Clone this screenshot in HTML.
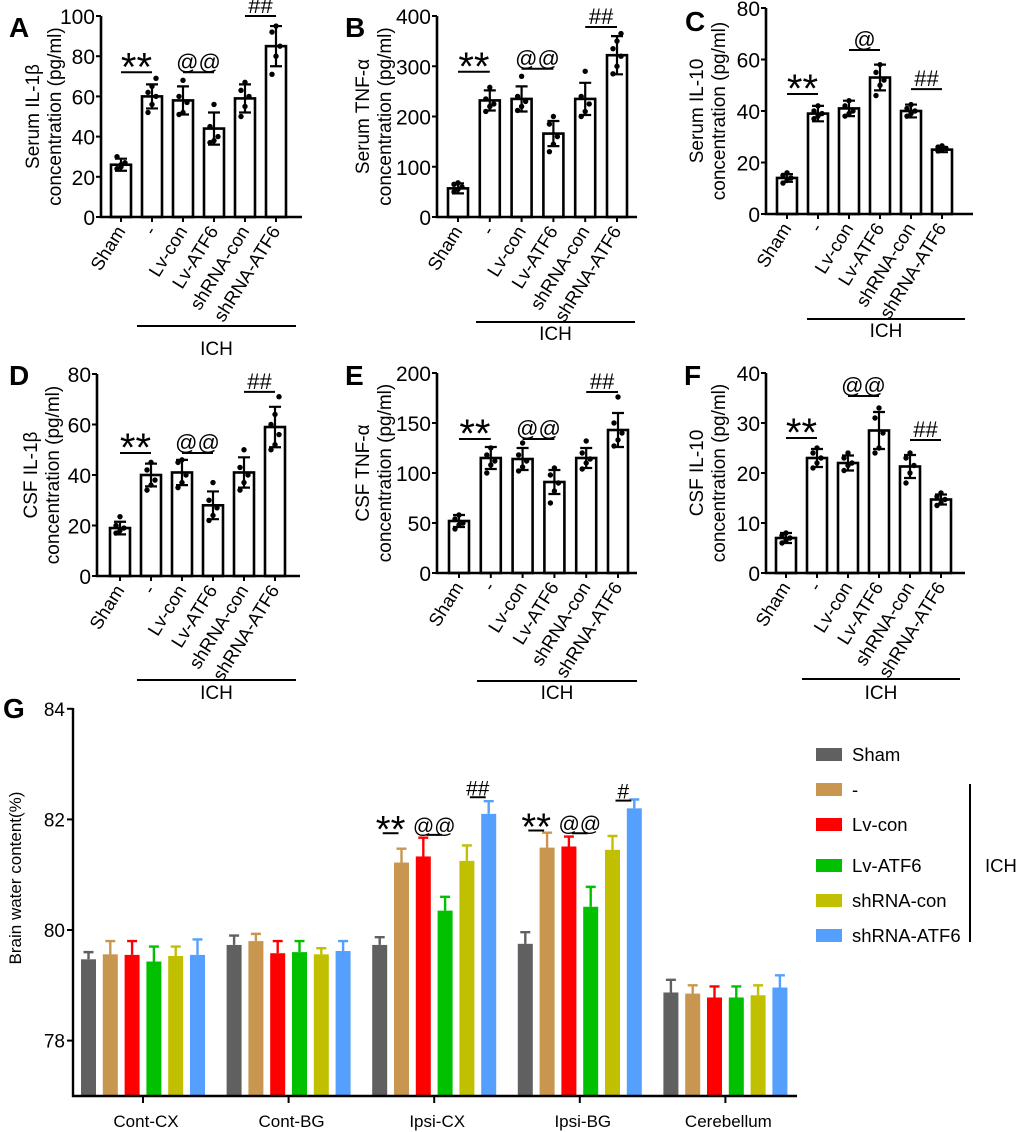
<!DOCTYPE html>
<html><head><meta charset="utf-8"><style>
html,body{margin:0;padding:0;background:#fff;}
svg{display:block;font-family:"Liberation Sans",Arial,sans-serif;}
</style></head><body>
<svg id="fig" width="1020" height="1132" viewBox="0 0 1020 1132" xmlns="http://www.w3.org/2000/svg"></svg>
<script>
const NS="http://www.w3.org/2000/svg";
const svg=document.getElementById('fig');
function mk(tag,attrs,parent,text){const e=document.createElementNS(NS,tag);for(const k in attrs)e.setAttribute(k,attrs[k]);if(text!==undefined)e.textContent=text;(parent||svg).appendChild(e);return e;}

const groups=["Sham","-","Lv-con","Lv-ATF6","shRNA-con","shRNA-ATF6"];

// Panel A data
const meanA=[26,60,58,44,59,85];
const sdA=[3,6,7,8,7,10];
const dotsA=[[24,26,27,30,25],[52,56,60,62,65,69],[51,52,57,60,68],[37,38,40,45,56],[50,55,60,63,67],[71,80,85,92,95]];
const ticksA=[0,20,40,60,80,100];
// Panel B data
const meanB=[57,232,235,166,235,322];
const sdB=[10,20,25,25,32,38];
const dotsB=[[50,55,60,65,68],[210,220,225,235,258],[212,220,230,240,280],[130,145,160,185,200],[200,210,225,240,290],[285,300,320,335,350,365]];
const ticksB=[0,100,200,300,400];
// Panel C data
const meanC=[14,39,41,53,40,25];
const sdC=[1.5,3,3,5,2.5,1];
const dotsC=[[12,13,14,15,16],[37,38,39,40,42],[38,39,40,42,44],[46,50,52,55,58],[38,39,40,41,42.5],[24.5,25,25.5,26,26.5]];
const ticksC=[0,20,40,60,80];
// Panel D data
const meanD=[19,40,41,28,41,59];
const sdD=[2.5,4.5,5,5.5,6,8];
const dotsD=[[17,18,19,20,23.5],[34,36,38,42,45],[35,37,40,45,46],[22,24,27,30,37],[34,37,40,43,50],[50,52,56,60,64,71]];
const ticksD=[0,20,40,60,80];
// Panel E data
const meanE=[52,115,114,91,115,143];
const sdE=[6,11,11,12,10,17];
const dotsE=[[44,48,50,54,58],[100,108,112,118,125],[102,106,112,118,130],[70,82,90,98,105],[104,110,114,120,132],[127,133,140,150,176]];
const ticksE=[0,50,100,150,200];
// Panel F data
const meanF=[7,23,22,28.5,21.3,14.7];
const sdF=[1,1.8,1.5,3.7,2.3,1];
const dotsF=[[6,6.5,7,7.5,8],[21,22,23,24,25],[20.5,21.5,22,23,24],[24,25,28,31,33],[18,20,21.5,23,24],[13.5,14,14.7,15.3,16]];
const ticksF=[0,10,20,30,40];

// Panel G data
const regionsG=["Cont-CX","Cont-BG","Ipsi-CX","Ipsi-BG","Cerebellum"];
const seriesG=["Sham","-","Lv-con","Lv-ATF6","shRNA-con","shRNA-ATF6"];
const shamG=[79.47,79.73,79.73,79.75,78.87];
const vehG=[79.56,79.80,81.22,81.49,78.85];
const lvconG=[79.55,79.58,81.33,81.51,78.78];
const lvatf6G=[79.43,79.60,80.35,80.42,78.78];
const shconG=[79.53,79.56,81.25,81.45,78.82];
const shatf6G=[79.55,79.62,82.10,82.20,78.96];
const shamErrG=[0.13,0.17,0.14,0.21,0.23];
const vehErrG=[0.24,0.13,0.25,0.27,0.15];
const lvconErrG=[0.25,0.22,0.34,0.18,0.2];
const lvatf6ErrG=[0.27,0.2,0.25,0.36,0.2];
const shconErrG=[0.17,0.11,0.28,0.25,0.18];
const shatf6ErrG=[0.28,0.18,0.23,0.16,0.22];
const ticksG=[78,80,82,84];

function panel(o){
  const g=mk('g',{},svg);
  
  
  const y=v=>o.y0-(v/o.ymax)*(o.y0-o.ytop);
  const x=i=>o.cx0+i*o.sp;
  const L=mk('text',{x:o.lx,y:o.ly,'font-size':28,'font-weight':'bold'},g,o.id);
  
  
  o.mean.forEach((m,i)=>{
    const b=mk('rect',{x:x(i)-10,y:y(m),width:20,height:o.y0-y(m),fill:'#fff',stroke:'#000','stroke-width':2.6},g);
    
    
    const e=mk('path',{d:`M${x(i)},${y(m+o.sd[i])}V${y(m-o.sd[i])}M${x(i)-6},${y(m+o.sd[i])}H${x(i)+6}M${x(i)-6},${y(m-o.sd[i])}H${x(i)+6}`,stroke:'#000','stroke-width':2.2,fill:'none'},g);
    
    
    o.dots[i].forEach((d,k)=>{
      const c=mk('circle',{cx:x(i)+((k%3)-1)*4,cy:y(d),r:2.7,fill:'#000'},g);
      
      
    });
    const t=mk('text',{x:x(i)+5,y:o.y0+14,'font-size':18.5,'text-anchor':'end',transform:`rotate(-58 ${x(i)+5} ${o.y0+14})`},g,groups[i]);
    
    
  });
  const ax=mk('path',{d:`M${o.ax},${o.ytop}V${o.y0}H${o.axEnd}`,stroke:'#000','stroke-width':2.6,fill:'none'},g);
  
  
  o.ticks.forEach(t=>{
    mk('line',{x1:o.ax-5,x2:o.ax,y1:y(t),y2:y(t),stroke:'#000','stroke-width':2},g);
    const tl=mk('text',{x:o.ax-6,y:y(t)+8,'font-size':21,'text-anchor':'end'},g,t);
    
    
  });
  groups.forEach((_,i)=>mk('line',{x1:x(i),x2:x(i),y1:o.y0,y2:o.y0+5,stroke:'#000','stroke-width':2},g));
  const ty=(o.ytop+o.y0)/2;
  const t1=mk('text',{x:o.ax+o.t1,y:ty,'font-size':19,'text-anchor':'middle',transform:`rotate(-90 ${o.ax+o.t1} ${ty})`},g,o.title1);
  
  
  const t2=mk('text',{x:o.ax+o.t1+22,y:ty,'font-size':19,'text-anchor':'middle',transform:`rotate(-90 ${o.ax+o.t1+22} ${ty})`},g,'concentration (pg/ml)');
  
  
  o.sig.forEach(s=>{
    const yy=y(s[3]);
    const l=mk('line',{x1:x(s[0]),x2:x(s[1]),y1:yy,y2:yy,stroke:'#000','stroke-width':2},g);
    
    
    const big=s[2]==='**';
    const st=mk('text',{x:(x(s[0])+x(s[1]))/2,y:yy-(big?-8:3),'font-size':big?40:22,'text-anchor':'middle'},g,s[2]);
    
    
  });
  const il=mk('line',{x1:o.ichX1,x2:o.ichX2,y1:o.ichY,y2:o.ichY,stroke:'#000','stroke-width':2},g);
  
  
  const it=mk('text',{x:(o.ichX1+o.ichX2)/2,y:o.ichT,'font-size':19,'text-anchor':'middle'},g,'ICH');
  
  
}

panel({id:'A',lx:9,ly:37,ax:101,y0:217,ytop:16,ymax:100,axEnd:302,cx0:121,sp:31,mean:meanA,sd:sdA,dots:dotsA,ticks:ticksA,t1:-62,title1:'Serum IL-1β',
  sig:[[0,1,'**',72],[2,3,'@@',72],[4,5,'##',100]],ichX1:137,ichX2:296,ichY:326,ichT:355});
panel({id:'B',lx:345,ly:37,ax:437,y0:217,ytop:16,ymax:400,axEnd:637,cx0:458,sp:31.8,mean:meanB,sd:sdB,dots:dotsB,ticks:ticksB,t1:-68,title1:'Serum TNF-α',
  sig:[[0,1,'**',289],[2,3,'@@',295],[4,5,'##',378]],ichX1:476,ichX2:635,ichY:322,ichT:340});
panel({id:'C',lx:685,ly:31,ax:766,y0:214,ytop:8,ymax:80,axEnd:973,cx0:787,sp:31,mean:meanC,sd:sdC,dots:dotsC,ticks:ticksC,t1:-63,title1:'Serum IL-10',
  sig:[[0,1,'**',46.6],[2,3,'@',63.7],[4,5,'##',48.5]],ichX1:807,ichX2:965,ichY:319,ichT:337});
panel({id:'D',lx:9,ly:385,ax:97,y0:576,ytop:374,ymax:80,axEnd:300,cx0:120,sp:31,mean:meanD,sd:sdD,dots:dotsD,ticks:ticksD,t1:-60,title1:'CSF IL-1β',
  sig:[[0,1,'**',48.7],[2,3,'@@',48.7],[4,5,'##',72.9]],ichX1:137,ichX2:296,ichY:680,ichT:699});
panel({id:'E',lx:345,ly:385,ax:437,y0:573,ytop:373,ymax:200,axEnd:637,cx0:459,sp:31.8,mean:meanE,sd:sdE,dots:dotsE,ticks:ticksE,t1:-68,title1:'CSF TNF-α',
  sig:[[0,1,'**',134],[2,3,'@@',134],[4,5,'##',181]],ichX1:477,ichX2:637,ichY:681,ichT:699});
panel({id:'F',lx:684,ly:385,ax:766,y0:573,ytop:373,ymax:40,axEnd:965,cx0:786,sp:31,mean:meanF,sd:sdF,dots:dotsF,ticks:ticksF,t1:-63,title1:'CSF IL-10',
  sig:[[0,1,'**',27],[2,3,'@@',35.4],[4,5,'##',26.6]],ichX1:802,ichX2:960,ichY:679,ichT:699});

// Panel G
(function(){
  const g=mk('g',{},svg);
  
  
  const colors=['#606060','#c8964f','#ff0000','#00c000','#c0c000','#55a0ff'];
  const vals=[shamG,vehG,lvconG,lvatf6G,shconG,shatf6G];
  const errs=[shamErrG,vehErrG,lvconErrG,lvatf6ErrG,shconErrG,shatf6ErrG];
  const ax=73,yBase=1096,axEnd=797;
  const y=v=>930-(v-80)*55.3;
  const gx=r=>143+r*145.6;
  const bx=(r,s)=>gx(r)+(s-2.5)*21.8;
  const L=mk('text',{x:3,y:718,'font-size':28,'font-weight':'bold'},g,'G');
  
  
  regionsG.forEach((rn,r)=>{
    vals.forEach((arr,s)=>{
      const v=arr[r],e=errs[s][r],cx=bx(r,s);
      const ep=mk('path',{d:`M${cx},${y(v)}V${y(v+e)}M${cx-5},${y(v+e)}H${cx+5}`,stroke:colors[s],'stroke-width':2.4,fill:'none'},g);
      
      
      const b=mk('rect',{x:cx-7.5,y:y(v),width:15,height:yBase-y(v),fill:colors[s]},g);
      
      
    });
    mk('line',{x1:gx(r),x2:gx(r),y1:yBase,y2:yBase+7,stroke:'#000','stroke-width':2},g);
    const t=mk('text',{x:gx(r)+3,y:1127,'font-size':17,'text-anchor':'middle'},g,rn);
    
    
  });
  const axp=mk('path',{d:`M${ax},708V${yBase}H${axEnd}`,stroke:'#000','stroke-width':2.4,fill:'none'},g);
  
  
  ticksG.forEach(t=>{
    mk('line',{x1:ax-6,x2:ax,y1:y(t),y2:y(t),stroke:'#000','stroke-width':2},g);
    const tl=mk('text',{x:ax-8,y:y(t)+7,'font-size':19,'text-anchor':'end'},g,t);
    
    
  });
  const yt=mk('text',{x:21,y:878,'font-size':17,'text-anchor':'middle',transform:'rotate(-90 21 878)'},g,'Brain water content(%)');
  
  
  const sigG=[[2,0,1,'**',81.75],[2,2,3,'@@',81.72],[2,4,5,'##',82.4],[3,0,1,'**',81.8],[3,2,3,'@@',81.75],[3,4,5,'#',82.34]];
  sigG.forEach(s=>{
    const x1=bx(s[0],s[1])+3,x2=bx(s[0],s[2])-3,yy=y(s[4]);
    const l=mk('line',{x1:x1,x2:x2,y1:yy,y2:yy,stroke:'#000','stroke-width':2},g);
    
    
    const big=s[3]==='**';
    const t=mk('text',{x:(x1+x2)/2,y:yy-(big?-9:2),'font-size':big?38:21,'text-anchor':'middle'},g,s[3]);
    
    
  });
  const ly=[754,789,824,865,900,935];
  seriesG.forEach((n,s)=>{
    const r=mk('rect',{x:816,y:ly[s]-6,width:26,height:13,fill:colors[s]},g);
    
    
    const t=mk('text',{x:852,y:ly[s]+7,'font-size':18.5},g,n);
    
    
  });
  const vl=mk('line',{x1:970,x2:970,y1:784,y2:942,stroke:'#000','stroke-width':2},g);
  
  
  const it=mk('text',{x:985,y:872,'font-size':18.5},g,'ICH');
  
  
})();
</script>
</body></html>
